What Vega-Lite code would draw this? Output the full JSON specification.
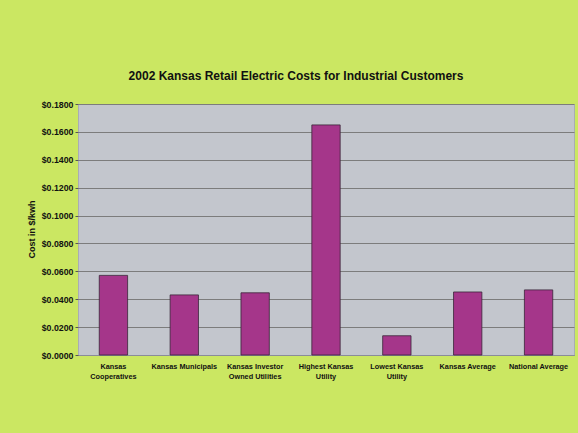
{
  "$schema": "https://vega.github.io/schema/vega-lite/v6.json",
  "autosize": {"type": "none"},
  "width": 496,
  "height": 251,
  "padding": {"left": 78, "top": 104, "right": 4, "bottom": 78},
  "background": "#cbe762",
  "title": {
    "text": "2002 Kansas Retail Electric Costs for Industrial Customers",
    "font": "Liberation Sans",
    "fontSize": 12,
    "fontWeight": "bold",
    "color": "#111111",
    "anchor": "middle",
    "frame": "group",
    "dx": -30,
    "offset": 17
  },
  "data": {
    "values": [
      {"category": "Kansas Cooperatives", "cost": 0.0571},
      {"category": "Kansas Municipals", "cost": 0.0431},
      {"category": "Kansas Investor Owned Utilities", "cost": 0.0446},
      {"category": "Highest Kansas Utility", "cost": 0.165},
      {"category": "Lowest Kansas Utility", "cost": 0.0138},
      {"category": "Kansas Average", "cost": 0.0452},
      {"category": "National Average", "cost": 0.0467}
    ]
  },
  "mark": {"type": "bar", "color": "#a5368a", "stroke": "#3a2438", "strokeWidth": 0.8},
  "encoding": {
    "x": {
      "field": "category",
      "type": "nominal",
      "sort": null,
      "scale": {"paddingInner": 0.6, "paddingOuter": 0.3},
      "axis": {
        "title": null,
        "labelAngle": 0,
        "labelFont": "Liberation Sans",
        "labelFontSize": 7.3,
        "labelFontWeight": "bold",
        "labelColor": "#111111",
        "labelLineHeight": 10.5,
        "labelPadding": 7,
        "labelLimit": 0,
        "ticks": false,
        "domainColor": "#8a8c99",
        "labelExpr": "datum.label == 'Kansas Cooperatives' ? ['Kansas', 'Cooperatives'] : datum.label == 'Kansas Investor Owned Utilities' ? ['Kansas Investor', 'Owned Utilities'] : datum.label == 'Highest Kansas Utility' ? ['Highest Kansas', 'Utility'] : datum.label == 'Lowest Kansas Utility' ? ['Lowest Kansas', 'Utility'] : datum.label"
      }
    },
    "y": {
      "field": "cost",
      "type": "quantitative",
      "scale": {"domain": [0, 0.18], "nice": false},
      "axis": {
        "title": "Cost in $/kwh",
        "titleFont": "Liberation Sans",
        "titleFontSize": 9,
        "titleFontWeight": "bold",
        "titleColor": "#111111",
        "titleX": -47,
        "titleY": 125,
        "titleAngle": -90,
        "titleAnchor": "middle",
        "titleBaseline": "middle",
        "values": [0, 0.02, 0.04, 0.06, 0.08, 0.1, 0.12, 0.14, 0.16, 0.18],
        "format": "$.4f",
        "labelFont": "Liberation Sans",
        "labelFontSize": 8.8,
        "labelFontWeight": "bold",
        "labelColor": "#111111",
        "labelPadding": 2,
        "tickSize": 3,
        "tickColor": "#555555",
        "domain": false,
        "grid": true,
        "gridColor": "#7c7c7c",
        "gridWidth": 1
      }
    }
  },
  "config": {
    "view": {"fill": "#c3c6cd", "stroke": "#a9acb5", "strokeWidth": 1}
  }
}
